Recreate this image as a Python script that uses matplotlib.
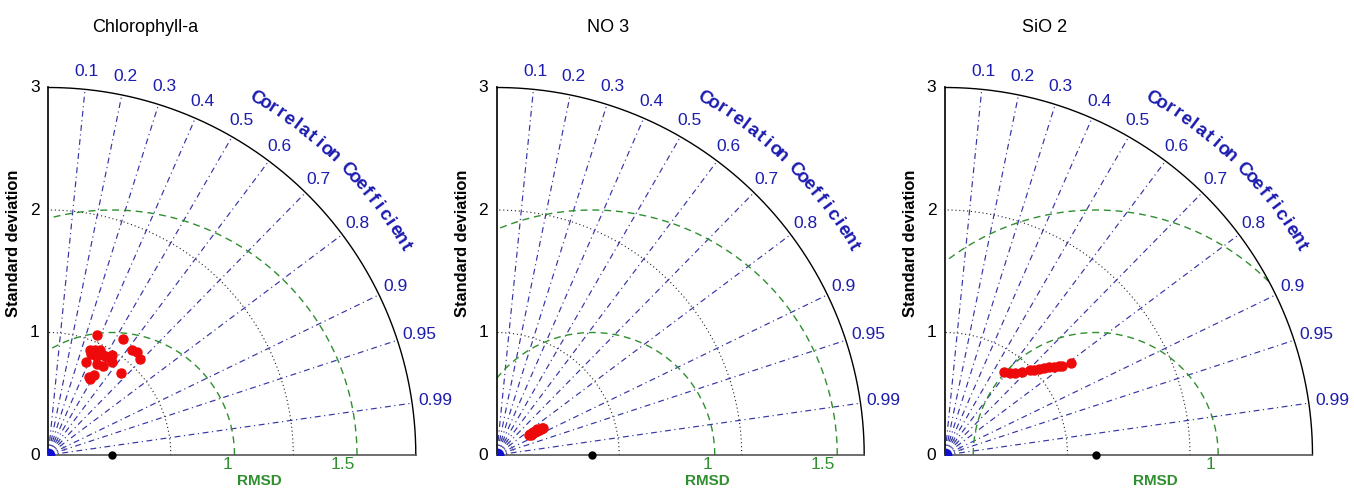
import numpy as np
import matplotlib
matplotlib.use("Agg")
import matplotlib.pyplot as plt

plt.rcParams['font.family'] = ['Liberation Sans', 'DejaVu Sans']

# ---------------- data ----------------
titles = ["Chlorophyll-a", "NO 3", "SiO 2"]
ref_std = [0.52, 0.78, 1.23]

chl_std = [1.058, 1.129, 0.925, 0.940, 0.957, 0.892, 0.899, 0.935, 0.933, 0.971,
           0.821, 0.841, 0.858, 0.921, 1.096, 1.106, 1.082, 0.893, 0.748, 0.707, 0.720]
chl_corr = [0.378, 0.540, 0.368, 0.404, 0.439, 0.392, 0.434, 0.481, 0.514, 0.536,
            0.378, 0.476, 0.525, 0.565, 0.620, 0.651, 0.693, 0.661, 0.495, 0.481, 0.458]

no3_std = [0.312, 0.324, 0.334, 0.344, 0.352, 0.364, 0.374, 0.381, 0.392, 0.401,
           0.410, 0.419, 0.428, 0.436, 0.323, 0.391]
no3_corr = [0.849, 0.848, 0.853, 0.849, 0.851, 0.852, 0.851, 0.855, 0.855, 0.856,
            0.858, 0.859, 0.860, 0.861, 0.868, 0.844]

sio2_std = [0.828, 0.854, 0.885, 0.927, 0.976, 1.004, 1.040, 1.075, 1.110, 1.145,
            1.180, 1.204, 1.274]
sio2_corr = [0.580, 0.620, 0.649, 0.680, 0.707, 0.722, 0.737, 0.750, 0.764, 0.776,
             0.788, 0.795, 0.809]

panel_std = [chl_std, no3_std, sio2_std]
panel_corr = [chl_corr, no3_corr, sio2_corr]

corr_ticks = [0.1, 0.2, 0.3, 0.4, 0.5, 0.6, 0.7, 0.8, 0.9, 0.95, 0.99]
corr_tick_labels = ["0.1", "0.2", "0.3", "0.4", "0.5", "0.6", "0.7", "0.8", "0.9", "0.95", "0.99"]
std_ticks = [0, 1, 2, 3]
std_grid = [1, 2]
rmsd_levels = [1.0, 2.0]
rmsd_labels = ["1", "1.5"]
std_max = 3.0

# ---------------- layout ----------------
W, H = 1354, 490
fig = plt.figure(figsize=(W / 100, H / 100), dpi=100)
fig.patch.set_facecolor("white")

origins = [(48.3, 455.0), (496.7, 455.0), (945.0, 455.0)]
unit = 122.5
title_x = [145, 608, 1045]
title_y = 28

blue_line = "#3535a5"
blue_text = "#1c1cb0"
green = "#2f8f2f"
red = "#ee0a0a"

theta_full = np.linspace(0, np.pi / 2, 400)

for i in range(3):
    ox, oy = origins[i]
    ax = fig.add_axes([ox / W, (H - oy) / H, std_max * unit / W, std_max * unit / H])
    ax.set_xlim(0, std_max)
    ax.set_ylim(0, std_max)
    ax.axis("off")

    # std dotted grid circles
    for r in std_grid:
        ax.plot(r * np.cos(theta_full), r * np.sin(theta_full), ls=(0, (1, 2.5)),
                color="#222222", lw=0.8, zorder=1)
    for r in [0.08, 0.14]:
        ax.plot(r * np.cos(theta_full), r * np.sin(theta_full), ls=(0, (1, 1.5)),
                color="#777777", lw=0.6, zorder=1)

    # correlation lines
    for c in corr_ticks:
        a = np.arccos(c)
        ax.plot([0, std_max * np.cos(a)], [0, std_max * np.sin(a)],
                ls=(0, (5, 3, 1, 3)), color=blue_line, lw=0.85, zorder=2)
    # RMSD circles
    ref = ref_std[i]
    phi = np.linspace(0, np.pi, 800)
    for k, rl in enumerate(rmsd_levels):
        x = ref + rl * np.cos(phi)
        y = rl * np.sin(phi)
        mask = (x >= 0) & (np.hypot(x, y) <= std_max)
        xm = np.where(mask, x, np.nan)
        ym = np.where(mask, y, np.nan)
        ax.plot(xm, ym, ls=(0, (5, 3.5)), color=green, lw=1.0, zorder=3)
        xc = ref + rl
        if xc <= std_max:
            ax.text(xc - 0.02, -0.02, rmsd_labels[k], color=green, fontsize=12.5,
                    ha="right", va="top", clip_on=False)

    # outer arc and axes
    ax.plot(std_max * np.cos(theta_full), std_max * np.sin(theta_full),
            color="black", lw=1.0, zorder=4, clip_on=False)
    ax.plot([0, 0], [0, std_max], color="black", lw=1.2, zorder=4, clip_on=False)
    ax.plot([0, std_max], [0, 0], color="#555555", lw=1.2, zorder=4, clip_on=False)

    # blue blob at origin
    ax.plot([0], [0], "o", color="#1010d0", ms=9, zorder=5, clip_on=True)

    # std tick labels
    for t in std_ticks:
        ax.text(-0.07, t, str(t), ha="right", va="center", fontsize=12.5,
                color="black", clip_on=False)
    ax.text(-0.28, 1.73, "Standard deviation", rotation=90, ha="center",
            va="center", fontsize=11.8, fontweight="bold", clip_on=False)

    # correlation labels
    for c, lab in zip(corr_ticks, corr_tick_labels):
        a = np.arccos(c)
        rr = 3.15
        ax.text(rr * np.cos(a) + (0.04 if c > 0.9 else 0.0), rr * np.sin(a), lab,
                ha="center", va="center", fontsize=12.5, color=blue_text, clip_on=False)

    # curved title "Correlation Coefficient"
    word = "Correlation Coefficient"
    angs = np.linspace(59.8, 30.3, len(word))
    for ch, ang in zip(word, angs):
        a = np.deg2rad(ang)
        ax.text(3.37 * np.cos(a), 3.37 * np.sin(a), ch, rotation=ang - 90,
                rotation_mode="anchor", ha="center", va="center", fontsize=13.5,
                fontweight="bold", color=blue_text, clip_on=False)

    ax.text(1.72, -0.215, "RMSD", ha="center", va="center", fontsize=11,
            fontweight="bold", color=green, clip_on=False)

    # reference point
    ax.plot([ref], [0], "o", color="black", ms=5, zorder=6, clip_on=False)

    # model points
    s = np.array(panel_std[i])
    cr = np.array(panel_corr[i])
    ax.plot(s * cr, s * np.sqrt(1 - cr ** 2), "o", color=red, ms=6.5,
            mec=red, zorder=7, clip_on=False)

    fig.text(title_x[i] / W, 1 - title_y / H, titles[i], ha="center",
             va="center", fontsize=13)

fig.savefig("out.png", dpi=100, facecolor="white")
